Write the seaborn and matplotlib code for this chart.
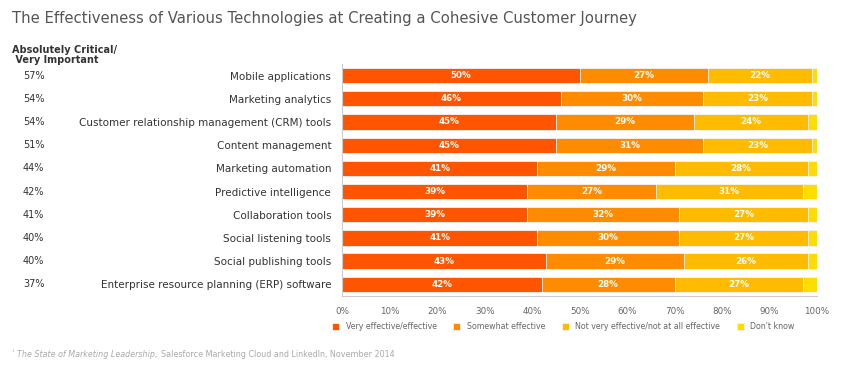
import matplotlib.pyplot as plt
import seaborn as sns
import numpy as np
import pandas as pd

technologies = ['Mobile applications', 'Marketing analytics',
                'Customer relationship management (CRM) tools', 'Content management',
                'Marketing automation', 'Predictive intelligence', 'Collaboration tools',
                'Social listening tools', 'Social publishing tools',
                'Enterprise resource planning (ERP) software']
critical = [57, 54, 54, 51, 44, 42, 41, 40, 40, 37]
very_effective = [50, 46, 45, 45, 41, 39, 39, 41, 43, 42]
somewhat_effective = [27, 30, 29, 31, 29, 27, 32, 30, 29, 28]
not_effective = [22, 23, 24, 23, 28, 31, 27, 27, 26, 27]
dont_know = [1, 1, 2, 1, 2, 3, 2, 2, 2, 3]

series = ['Very effective/effective', 'Somewhat effective',
          'Not very effective/not at all effective', "Don't know"]
colors = ['#ff5500', '#ff8c00', '#ffbb00', '#ffdd00']

df = pd.DataFrame({'tech': technologies,
                   series[0]: very_effective, series[1]: somewhat_effective,
                   series[2]: not_effective, series[3]: dont_know})
cum = df[series].cumsum(axis=1)

sns.set_style('white')
plt.rcParams['font.family'] = ['DejaVu Sans']

fig = plt.figure(figsize=(8.6, 3.68), dpi=100)
ax = fig.add_axes([0.398, 0.196, 0.552, 0.63])

# stacked bars: draw cumulative totals from the back to the front
for s, c in reversed(list(zip(series, colors))):
    sns.barplot(x=cum[s], y=df['tech'], color=c, saturation=1, width=0.66, ax=ax,
                edgecolor='#f4f4f4', linewidth=0.6, label=s, orient='h')

# value labels in the first three segments
for i in range(len(df)):
    left = 0
    for s in series[:3]:
        v = df[s][i]
        ax.text(left + v / 2, i, f'{v}%', ha='center', va='center',
                color='white', fontsize=6.3, fontweight='bold')
        left += v

ax.set_xlim(0, 100)
ax.set_ylim(len(df) - 0.5, -0.5)
ax.set_xticks(np.arange(0, 101, 10))
ax.set_xticklabels([f'{t}%' for t in range(0, 101, 10)], fontsize=6.3, color='#666666')
ax.set_yticks(range(len(df)))
ax.set_yticklabels(technologies, fontsize=7.5, color='#333333')
ax.set_yticks(np.arange(-0.5, len(df), 1), minor=True)
ax.tick_params(axis='y', which='major', length=0, pad=8)
ax.tick_params(axis='y', which='minor', length=3, color='#cccccc', width=0.8)
ax.tick_params(axis='x', length=3, color='#cccccc', width=0.8, pad=5)
ax.set_xlabel('')
ax.set_ylabel('')
for side in ['top', 'right']:
    ax.spines[side].set_visible(False)
for side in ['left', 'bottom']:
    ax.spines[side].set_color('#cccccc')
    ax.spines[side].set_linewidth(0.8)

# importance column on the left
for i, p in enumerate(critical):
    ax.text(-0.65, i, f'{p}%', transform=ax.get_yaxis_transform(),
            ha='center', va='center', fontsize=7, color='#333333')
fig.text(0.014, 0.85, 'Absolutely Critical/\n Very Important', fontsize=7,
         fontweight='bold', color='#333333', ha='left', va='center', linespacing=1.0)

fig.text(0.014, 0.95, 'The Effectiveness of Various Technologies at Creating a Cohesive Customer Journey',
         fontsize=10.75, color='#555555', ha='left', va='center')

handles, labels = ax.get_legend_handles_labels()
order = [labels.index(s) for s in series]
leg = fig.legend([handles[k] for k in order], series, loc='center left',
                 bbox_to_anchor=(0.378, 0.112), ncol=4, frameon=False,
                 fontsize=5.7, handlelength=0.9, handleheight=0.9,
                 columnspacing=2.1, handletextpad=0.8)
for t in leg.get_texts():
    t.set_color('#666666')
if ax.get_legend():
    ax.get_legend().remove()

# footnote: italic source title followed by plain text
fig.text(0.014, 0.042, '¹', fontsize=4.5, color='#aaaaaa', ha='left', va='center')
src = fig.text(0.02, 0.038, 'The State of Marketing Leadership,', fontsize=5.8, style='italic',
               color='#aaaaaa', ha='left', va='center')
fig.canvas.draw()
bb = src.get_window_extent().transformed(fig.transFigure.inverted())
fig.text(bb.x1 + 0.004, 0.038, 'Salesforce Marketing Cloud and LinkedIn, November 2014',
         fontsize=5.8, color='#aaaaaa', ha='left', va='center')

fig.savefig('out.png', dpi=100)
